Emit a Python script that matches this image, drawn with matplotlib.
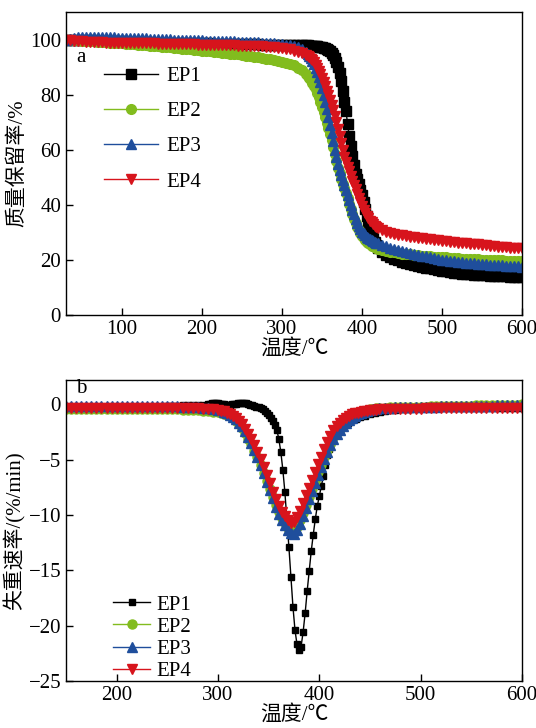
import numpy as np
import matplotlib.pyplot as plt

plt.rcParams['font.family'] = ['Liberation Serif', 'Noto Sans CJK SC']

# ---- (a) TG curves: temperature (°C) and mass retention (%) ----
t_tg = np.concatenate([np.arange(30, 331, 5), np.arange(332, 421, 2), np.arange(425, 601, 5)])

tg_ep1 = [100.0, 100.0, 99.9, 99.9, 99.8, 99.8, 99.7, 99.7, 99.6, 99.6,
          99.5, 99.5, 99.4, 99.4, 99.3, 99.3, 99.2, 99.2, 99.1, 99.1,
          99.0, 99.0, 98.9, 98.9, 98.9, 98.8, 98.8, 98.8, 98.8, 98.7,
          98.7, 98.7, 98.7, 98.6, 98.6, 98.6, 98.6, 98.5, 98.5, 98.5,
          98.5, 98.4, 98.4, 98.4, 98.4, 98.3, 98.3, 98.3, 98.3, 98.2,
          98.2, 98.2, 98.2, 98.1, 98.1, 98.1, 98.0, 98.0, 98.0, 97.9, 97.9,
          97.9, 97.8, 97.8, 97.7, 97.7, 97.6, 97.5, 97.4, 97.3, 97.2,
          97.0, 96.9, 96.6, 96.3, 95.8, 95.0, 94.3, 93.2, 91.8, 90.0,
          87.8, 85.0, 81.5, 77.5, 74.0, 69.5, 65.0, 61.2, 57.8, 54.5,
          51.3, 49.2, 47.5, 45.5, 43.5, 41.0, 38.5, 36.0, 33.5, 31.3,
          29.5, 27.8, 26.5, 25.4, 24.5,
          23.0, 21.8, 21.0, 20.4, 19.9, 19.4, 19.0, 18.6, 18.2, 17.9,
          17.5, 17.2, 16.9, 16.6, 16.3, 16.0, 15.8, 15.6, 15.4, 15.2,
          15.0, 14.9, 14.8, 14.7, 14.6, 14.5, 14.4, 14.3, 14.2, 14.1,
          14.0, 14.0, 13.9, 13.9, 13.8, 13.8]
tg_ep2 = [100.0, 99.9, 99.8, 99.7, 99.6, 99.5, 99.4, 99.3, 99.2, 99.1,
          99.0, 98.9, 98.8, 98.7, 98.6, 98.5, 98.4, 98.3, 98.2, 98.0,
          97.9, 97.8, 97.7, 97.5, 97.4, 97.3, 97.2, 97.0, 96.9, 96.7,
          96.6, 96.4, 96.3, 96.1, 96.0, 95.8, 95.7, 95.5, 95.4, 95.2,
          95.1, 94.9, 94.7, 94.6, 94.4, 94.2, 94.0, 93.8, 93.6, 93.4,
          93.1, 92.9, 92.6, 92.3, 92.0, 91.6, 91.2, 90.6, 89.8, 88.8, 87.5,
          86.8, 86.0, 85.2, 84.3, 83.2, 82.0, 80.6, 79.0, 77.3, 75.5,
          73.7, 71.8, 69.8, 67.8, 65.7, 63.5, 61.0, 58.5, 56.0, 53.5,
          51.4, 49.5, 47.7, 46.0, 44.2, 42.3, 40.4, 38.5, 36.7, 35.0,
          33.4, 32.0, 30.7, 29.6, 28.6, 27.8, 27.2, 26.6, 26.1, 25.6,
          25.2, 24.9, 24.6, 24.3, 24.1,
          23.7, 23.3, 23.0, 22.7, 22.5, 22.3, 22.1, 22.0, 21.8, 21.7,
          21.5, 21.4, 21.3, 21.2, 21.1, 21.0, 20.9, 20.8, 20.7, 20.6,
          20.5, 20.4, 20.4, 20.3, 20.2, 20.1, 20.1, 20.0, 19.9, 19.8,
          19.8, 19.7, 19.7, 19.6, 19.6, 19.5]
tg_ep3 = [100.0, 100.3, 100.6, 100.8, 100.9, 101.0, 101.0, 101.0, 101.0, 100.9,
          100.9, 100.8, 100.8, 100.7, 100.7, 100.6, 100.6, 100.5, 100.5, 100.4,
          100.4, 100.3, 100.3, 100.2, 100.2, 100.1, 100.1, 100.0, 100.0, 99.9,
          99.9, 99.8, 99.8, 99.7, 99.7, 99.6, 99.6, 99.5, 99.5, 99.4,
          99.4, 99.3, 99.3, 99.2, 99.2, 99.1, 99.1, 99.0, 99.0, 98.9,
          98.8, 98.7, 98.6, 98.5, 98.3, 98.1, 97.9, 97.6, 97.2, 96.5, 95.5,
          94.9, 94.2, 93.3, 92.3, 91.1, 89.8, 88.3, 86.5, 84.5, 82.3,
          80.0, 77.5, 74.8, 72.0, 69.0, 66.0, 63.0, 60.0, 57.4, 55.0,
          52.8, 50.8, 49.0, 47.2, 45.4, 43.5, 41.6, 39.8, 38.1, 36.5,
          35.0, 33.5, 32.3, 31.2, 30.3, 29.6, 29.0, 28.5, 28.0, 27.6,
          27.2, 26.9, 26.6, 26.3, 26.0,
          25.4, 25.0, 24.5, 24.1, 23.7, 23.3, 22.9, 22.6, 22.2, 21.9,
          21.6, 21.3, 21.0, 20.7, 20.4, 20.1, 19.9, 19.7, 19.5, 19.3,
          19.1, 19.0, 18.8, 18.7, 18.6, 18.5, 18.4, 18.3, 18.2, 18.1,
          18.0, 17.9, 17.8, 17.7, 17.7, 17.6]
tg_ep4 = [100.0, 99.8, 99.6, 99.4, 99.3, 99.2, 99.1, 99.1, 99.0, 99.0,
          98.9, 98.9, 98.8, 98.8, 98.8, 98.8, 98.7, 98.7, 98.7, 98.7,
          98.6, 98.6, 98.6, 98.5, 98.5, 98.5, 98.5, 98.4, 98.4, 98.3,
          98.3, 98.3, 98.3, 98.2, 98.2, 98.1, 98.1, 98.1, 98.1, 98.0,
          98.0, 97.9, 97.9, 97.8, 97.8, 97.7, 97.7, 97.6, 97.6, 97.5,
          97.4, 97.3, 97.2, 97.1, 96.9, 96.7, 96.4, 96.0, 95.6, 95.0, 94.3,
          94.0, 93.6, 93.1, 92.5, 91.7, 90.8, 89.8, 88.6, 87.4, 86.0,
          84.6, 83.0, 81.4, 79.8, 78.1, 76.3, 74.3, 72.2, 69.9, 67.5,
          64.9, 62.3, 59.8, 57.5, 55.5, 53.8, 52.1, 50.5, 48.8, 47.2,
          45.6, 44.0, 42.5, 41.0, 39.6, 38.3, 37.1, 36.0, 35.1, 34.3,
          33.6, 33.0, 32.4, 31.9, 31.5,
          30.7, 30.1, 29.7, 29.4, 29.1, 28.9, 28.7, 28.5, 28.3, 28.1,
          27.9, 27.7, 27.5, 27.3, 27.1, 26.9, 26.8, 26.6, 26.5, 26.3,
          26.2, 26.0, 25.9, 25.7, 25.6, 25.4, 25.3, 25.1, 25.0, 24.8,
          24.7, 24.6, 24.5, 24.4, 24.3, 24.2]

# ---- (b) DTG curves: weight loss rate (%/min) ----
t_dtg = np.concatenate([np.arange(150, 301, 5), np.arange(303, 460, 3), np.arange(465, 601, 5)])
t_dtg_ep1 = np.concatenate([np.arange(150, 291, 5), np.arange(292, 421, 2),
                            np.arange(424, 441, 4), np.arange(445, 601, 5)])

dtg_ep1 = [-0.2] * 20 + [-0.18, -0.15, -0.12, -0.1, -0.08, -0.06, -0.04, -0.02, 0.0] + \
          [0.05, 0.1, 0.12, 0.1, 0.08, 0.05, 0.02, 0.0, -0.02, -0.03,
           -0.02, 0.0, 0.02, 0.05, 0.08, 0.12, 0.15, 0.15, 0.1, 0.05,
           -0.02, -0.1, -0.15, -0.2, -0.28, -0.36, -0.45, -0.6, -0.75, -0.95,
           -1.2, -1.5, -1.85, -2.3, -3.1, -4.3, -5.9, -7.9, -10.4, -12.9,
           -15.6, -18.3, -20.4, -21.7, -22.2, -21.9, -20.6, -18.9, -16.9, -15.1,
           -13.3, -11.8, -10.4, -9.2, -8.3, -7.4, -6.5, -5.5, -4.6, -4.0,
           -3.5, -3.1, -2.8, -2.5, -2.25] + \
          [-1.9, -1.65, -1.45, -1.3, -1.15] + \
          [-1.02, -0.9, -0.8, -0.7, -0.62, -0.55, -0.5, -0.45, -0.42, -0.4, -0.38, -0.36,
           -0.35, -0.34, -0.33, -0.32] + [-0.3] * 16
dtg_ep2 = [-0.45] * 21 + [-0.46, -0.47, -0.48, -0.5, -0.52, -0.55, -0.58, -0.62, -0.67, -0.73] + \
          [-0.78, -0.86, -0.97, -1.1, -1.27, -1.48, -1.78, -2.15, -2.6, -3.1,
           -3.62, -4.2, -4.8, -5.47, -6.2, -6.9, -7.65, -8.4, -9.1, -9.7,
           -10.25, -10.75, -11.15, -11.4, -11.45, -11.1, -10.5, -9.8, -9.1, -8.4,
           -7.65, -6.9, -6.15, -5.45, -4.8, -4.15, -3.55, -3.0, -2.55, -2.2,
           -1.85, -1.55, -1.3, -1.1, -0.95, -0.82, -0.7, -0.6, -0.52, -0.46,
           -0.41, -0.37, -0.33] + \
          [-0.3, -0.28, -0.26, -0.25, -0.24, -0.23, -0.22, -0.21, -0.2, -0.19,
           -0.18, -0.17, -0.16, -0.15, -0.14, -0.13, -0.12, -0.11, -0.1, -0.09,
           -0.08, -0.07, -0.06, -0.05, -0.04, -0.03, -0.02, 0.0]
dtg_ep3 = [-0.15] * 21 + [-0.16, -0.18, -0.2, -0.22, -0.25, -0.28, -0.32, -0.37, -0.43, -0.5] + \
          [-0.56, -0.66, -0.8, -0.95, -1.14, -1.37, -1.65, -2.0, -2.45, -2.95,
           -3.5, -4.1, -4.75, -5.5, -6.25, -7.0, -7.75, -8.5, -9.25, -9.9,
           -10.45, -10.95, -11.35, -11.65, -11.75, -11.4, -10.8, -10.1, -9.35, -8.6,
           -7.85, -7.1, -6.35, -5.65, -4.95, -4.3, -3.7, -3.15, -2.7, -2.3,
           -1.95, -1.65, -1.4, -1.2, -1.03, -0.88, -0.76, -0.66, -0.57, -0.5,
           -0.44, -0.39, -0.36] + \
          [-0.33, -0.3, -0.28, -0.26, -0.25, -0.24, -0.23, -0.22, -0.21, -0.2,
           -0.2, -0.19, -0.18, -0.18, -0.17, -0.16, -0.15, -0.15, -0.14, -0.13,
           -0.12, -0.11, -0.1, -0.09, -0.08, -0.07, -0.06, -0.05]
dtg_ep4 = [-0.3] * 21 + [-0.31, -0.32, -0.33, -0.35, -0.36, -0.38, -0.4, -0.43, -0.47, -0.52] + \
          [-0.57, -0.65, -0.76, -0.9, -1.06, -1.25, -1.5, -1.8, -2.2, -2.65,
           -3.15, -3.7, -4.3, -4.95, -5.65, -6.4, -7.15, -7.9, -8.6, -9.2,
           -9.7, -10.1, -10.45, -10.7, -10.6, -10.2, -9.6, -8.9, -8.2, -7.55,
           -6.85, -6.1, -5.4, -4.75, -4.05, -3.4, -2.85, -2.35, -1.95, -1.7,
           -1.45, -1.25, -1.07, -0.92, -0.83, -0.75, -0.68, -0.62, -0.57, -0.53,
           -0.5, -0.48, -0.46] + \
          [-0.44, -0.43, -0.42, -0.41, -0.4, -0.4, -0.39, -0.39, -0.38, -0.38,
           -0.38, -0.37, -0.37, -0.37, -0.37, -0.36] + [-0.36] * 12

labels = ['EP1', 'EP2', 'EP3', 'EP4']
colors = ['#000000', '#82bc1e', '#1f4e9c', '#d7141c']
markers = ['s', 'o', '^', 'v']
cjk = ['Liberation Serif', 'Noto Sans CJK SC']

fig = plt.figure(figsize=(5.36, 7.28), dpi=100)
ax1 = fig.add_axes([0.1231, 0.5673, 0.8507, 0.4162])
ax2 = fig.add_axes([0.1231, 0.0646, 0.8507, 0.4135])

# panel a
for y, c, m, lab in zip([tg_ep1, tg_ep2, tg_ep3, tg_ep4], colors, markers, labels):
    ax1.plot(t_tg, y, color=c, marker=m, ms=7, lw=1, mec=c, mfc=c, label=lab)
ax1.set_xlim(30, 600)
ax1.set_ylim(0, 110)
ax1.set_xticks([100, 200, 300, 400, 500, 600])
ax1.set_yticks([0, 20, 40, 60, 80, 100])
ax1.set_xlabel('温度/℃', family=cjk, fontsize=15, labelpad=0)
ax1.set_ylabel('质量保留率/%', family=cjk, fontsize=15, labelpad=2)
ax1.text(0.022, 0.85, 'a', transform=ax1.transAxes, fontsize=15, va='center')
ax1.legend(loc='upper left', bbox_to_anchor=(0.06, 0.855), frameon=False, fontsize=15,
           handlelength=2.6, labelspacing=0.75, handletextpad=0.4, borderpad=0)

# panel b
dtg_x = [t_dtg_ep1, t_dtg, t_dtg, t_dtg]
dtg_y = [dtg_ep1, dtg_ep2, dtg_ep3, dtg_ep4]
sizes = [4.5, 6.5, 6.5, 6.5]
for x, y, c, m, lab, s in zip(dtg_x, dtg_y, colors, markers, labels, sizes):
    ax2.plot(x, y, color=c, marker=m, ms=s, lw=1, mec=c, mfc=c, label=lab)
ax2.set_xlim(150, 600)
ax2.set_ylim(-25, 2.2)
ax2.set_xticks([200, 300, 400, 500, 600])
ax2.set_yticks([-25, -20, -15, -10, -5, 0])
ax2.set_yticklabels(['\u221225', '\u221220', '\u221215', '\u221210', '\u22125', '0'])
ax2.set_xlabel('温度/℃', family=cjk, fontsize=15, labelpad=0)
ax2.set_ylabel('失重速率/(%/min)', family=cjk, fontsize=15, labelpad=2)
ax2.text(0.022, 0.97, 'b', transform=ax2.transAxes, fontsize=15, va='center')
ax2.legend(loc='upper left', bbox_to_anchor=(0.08, 0.32), frameon=False, fontsize=15,
           handlelength=1.8, labelspacing=0.12, handletextpad=0.3, borderpad=0)

for ax in (ax1, ax2):
    ax.tick_params(direction='in', length=5, width=1, labelsize=15, top=False, right=False)
    for sp in ax.spines.values():
        sp.set_linewidth(1)

fig.savefig('out.png', dpi=100)
